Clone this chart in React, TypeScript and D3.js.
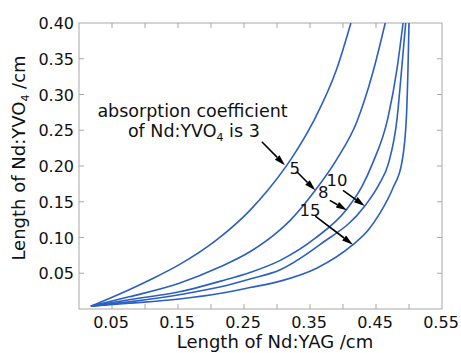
import React from "react";
import * as d3 from "d3";

const W = 461;
const H = 353;
const M = { left: 79, top: 23, right: 442, bottom: 309 };

// absorption coefficients (series names)
const coefficients = [3, 5, 8, 10, 15];

// Length of Nd:YAG (cm) / Length of Nd:YVO4 (cm)
const xs3 = [0.018, 0.076, 0.108, 0.152, 0.209, 0.259, 0.286, 0.323, 0.355, 0.391, 0.412];
const ys3 = [0.004, 0.027, 0.041, 0.062, 0.097, 0.138, 0.166, 0.212, 0.262, 0.337, 0.4];

const xs5 = [0.018, 0.076, 0.152, 0.214, 0.259, 0.305, 0.32, 0.358, 0.391, 0.421, 0.445, 0.464];
const ys5 = [0.004, 0.017, 0.036, 0.059, 0.08, 0.111, 0.124, 0.166, 0.21, 0.262, 0.33, 0.4];

const xs8 = [0.018, 0.076, 0.152, 0.215, 0.259, 0.305, 0.358, 0.406, 0.428, 0.445, 0.468, 0.482, 0.491];
const ys8 = [0.004, 0.013, 0.024, 0.039, 0.051, 0.068, 0.099, 0.14, 0.17, 0.204, 0.267, 0.337, 0.4];

const xs10 = [0.018, 0.076, 0.152, 0.215, 0.259, 0.305, 0.365, 0.433, 0.455, 0.469, 0.482, 0.489, 0.495];
const ys10 = [0.004, 0.01, 0.02, 0.031, 0.042, 0.055, 0.09, 0.144, 0.175, 0.204, 0.267, 0.337, 0.4];

const xs15 = [0.018, 0.076, 0.152, 0.215, 0.259, 0.305, 0.36, 0.415, 0.438, 0.456, 0.476, 0.489, 0.496, 0.4985, 0.5];
const ys15 = [0.004, 0.008, 0.014, 0.022, 0.03, 0.039, 0.057, 0.09, 0.11, 0.134, 0.17, 0.204, 0.267, 0.337, 0.4];

const seriesX = [xs3, xs5, xs8, xs10, xs15];
const seriesY = [ys3, ys5, ys8, ys10, ys15];

const xTickMarks = [0.05, 0.1, 0.15, 0.2, 0.25, 0.3, 0.35, 0.4, 0.45, 0.5];
const xTickLabels = [0.05, 0.15, 0.25, 0.35, 0.45, 0.55];
const yTickMarks = [0.05, 0.1, 0.15, 0.2, 0.25, 0.3, 0.35];
const yTickLabels = [0.05, 0.1, 0.15, 0.2, 0.25, 0.3, 0.35, 0.4];

// annotations in data units: label position, arrow start, arrow end
const labelText = ["5", "8", "10", "15"];
const labelX = [0.327, 0.37, 0.391, 0.35];
const labelY = [0.197, 0.164, 0.18, 0.138];
const arrowX0 = [0.277, 0.33, 0.38, 0.4, 0.358];
const arrowY0 = [0.234, 0.192, 0.152, 0.166, 0.13];
const arrowX1 = [0.312, 0.358, 0.406, 0.433, 0.415];
const arrowY1 = [0.201, 0.166, 0.138, 0.144, 0.09];

const FONT = "'DejaVu Sans', sans-serif";
const BLUE = "#2b5fc0";
const GRAY = "#a8a8a8";

export default function App() {
  const x = d3.scaleLinear().domain([0, 0.55]).range([M.left, M.right]);
  const y = d3.scaleLinear().domain([0, 0.4]).range([M.bottom, M.top]);
  const line = d3
    .line<[number, number]>()
    .x((d) => x(d[0]))
    .y((d) => y(d[1]))
    .curve(d3.curveMonotoneX);

  const fmt = d3.format(".2f");
  const tl = 5;

  const arrows = arrowX0.map((_, i) => {
    const x0 = x(arrowX0[i]);
    const y0 = y(arrowY0[i]);
    const x1 = x(arrowX1[i]);
    const y1 = y(arrowY1[i]);
    const ang = Math.atan2(y1 - y0, x1 - x0);
    const L = 11;
    const Wd = 3.2;
    const bx = x1 - L * Math.cos(ang);
    const by = y1 - L * Math.sin(ang);
    const px = -Math.sin(ang) * Wd;
    const py = Math.cos(ang) * Wd;
    return (
      <g key={"a" + i}>
        <line x1={x0} y1={y0} x2={bx} y2={by} stroke="#000" strokeWidth={1.6} />
        <polygon
          points={`${x1},${y1} ${bx + px},${by + py} ${bx - px},${by - py}`}
          fill="#000"
        />
      </g>
    );
  });

  return (
    <svg
      width={W}
      height={H}
      style={{ position: "absolute", left: 0, top: 0, background: "#fff", fontFamily: FONT }}
    >
      <rect x={0} y={0} width={W} height={H} fill="#fff" />
      {/* frame */}
      <rect
        x={M.left}
        y={M.top}
        width={M.right - M.left}
        height={M.bottom - M.top}
        fill="none"
        stroke={GRAY}
        strokeWidth={1}
      />
      {xTickMarks.map((t) => (
        <g key={"xt" + t} stroke={GRAY} strokeWidth={1}>
          <line x1={x(t)} x2={x(t)} y1={M.bottom} y2={M.bottom - tl} />
          <line x1={x(t)} x2={x(t)} y1={M.top} y2={M.top + tl} />
        </g>
      ))}
      {yTickMarks.map((t) => (
        <g key={"yt" + t} stroke={GRAY} strokeWidth={1}>
          <line x1={M.left} x2={M.left + tl} y1={y(t)} y2={y(t)} />
          <line x1={M.right} x2={M.right - tl} y1={y(t)} y2={y(t)} />
        </g>
      ))}
      {xTickLabels.map((t) => (
        <text
          key={"xl" + t}
          x={x(t) - 1}
          y={328}
          fontSize={16}
          textAnchor="middle"
          fill="#111"
        >
          {fmt(t)}
        </text>
      ))}
      {yTickLabels.map((t) => (
        <text
          key={"yl" + t}
          x={74}
          y={y(t) + 6}
          fontSize={16}
          textAnchor="end"
          fill="#111"
        >
          {fmt(t)}
        </text>
      ))}
      {/* curves */}
      {coefficients.map((c, i) => (
        <path
          key={"c" + c}
          d={line(seriesX[i].map((v, j) => [v, seriesY[i][j]] as [number, number])) || ""}
          fill="none"
          stroke={BLUE}
          strokeWidth={1.6}
        />
      ))}
      {/* annotation */}
      <text x={x(0.172)} y={y(0.268)} fontSize={17.5} textAnchor="middle" fill="#111">
        absorption coefficient
      </text>
      <text x={x(0.174)} y={y(0.241)} fontSize={17.5} textAnchor="middle" fill="#111">
        of Nd:YVO<tspan fontSize={11} dy={4}>4</tspan>
        <tspan dy={-4}> is 3</tspan>
      </text>
      {labelText.map((s, i) => (
        <text
          key={"lb" + s}
          x={x(labelX[i])}
          y={y(labelY[i]) + 6}
          fontSize={16.5}
          textAnchor="middle"
          fill="#111"
        >
          {s}
        </text>
      ))}
      {arrows}
      {/* axis titles */}
      <text x={275} y={348} fontSize={18} textAnchor="middle" fill="#111">
        Length of Nd:YAG /cm
      </text>
      <text
        transform={`translate(25,158) rotate(-90)`}
        fontSize={18}
        textAnchor="middle"
        fill="#111"
      >
        Length of Nd:YVO<tspan fontSize={11} dy={4}>4</tspan>
        <tspan dy={-4}> /cm</tspan>
      </text>
    </svg>
  );
}
